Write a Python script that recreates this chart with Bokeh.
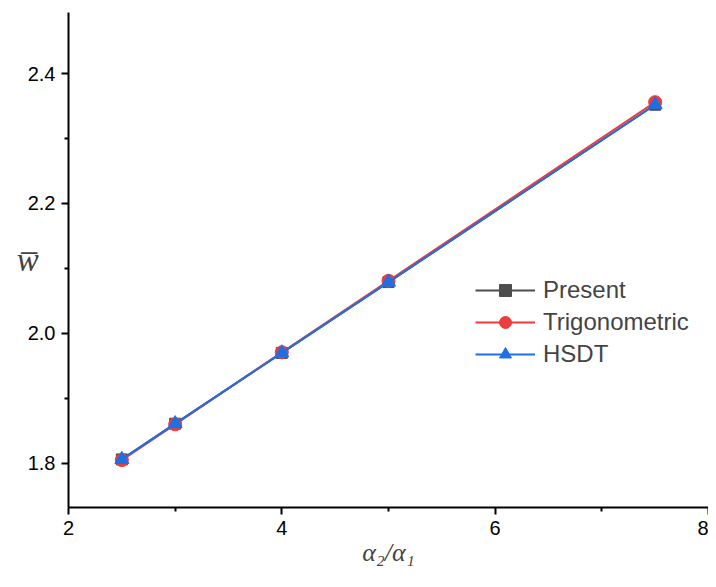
from bokeh.plotting import figure
from bokeh.models import FixedTicker, Range1d, Legend, LegendItem
from bokeh.embed import file_html
from bokeh.resources import INLINE

ratio = [2.5, 3, 4, 5, 7.5]
present = [1.806, 1.861, 1.970, 2.079, 2.352]
trigonometric = [1.805, 1.860, 1.971, 2.081, 2.356]
hsdt = [1.806, 1.861, 1.970, 2.079, 2.352]

x_ticks = [2, 4, 6, 8]
x_minor = [3, 5, 7]
y_ticks = [1.8, 2.0, 2.2, 2.4]
y_minor = [1.9, 2.1, 2.3]

p = figure(width=708, height=579, output_backend="svg", toolbar_location=None,
           x_range=Range1d(2, 8), y_range=Range1d(1.732, 2.494),
           min_border_left=68, min_border_right=0, min_border_top=12, min_border_bottom=72)
p.outline_line_color = None
p.grid.visible = False

series = [
    ("Present", present, "#4D4D4D", "square", 11),
    ("Trigonometric", trigonometric, "#EE3B3B", "circle", 13),
    ("HSDT", hsdt, "#1E6FE3", "triangle", 14),
]
items = []
for name, vals, col, mk, sz in series:
    r1 = p.line(ratio, vals, line_color=col, line_width=2)
    r2 = p.scatter(ratio, vals, marker=mk, size=sz, fill_color=col, line_color=col)
    items.append(LegendItem(label=name, renderers=[r1, r2]))

legend = Legend(items=items, location=(407, 138), label_text_font="Liberation Sans",
                label_text_font_size="24px", glyph_width=60, glyph_height=30,
                label_standoff=8, spacing=2, padding=0, border_line_color=None,
                background_fill_alpha=0)
p.add_layout(legend, "center")

for ax in (p.xaxis[0], p.yaxis[0]):
    ax.axis_line_width = 2
    ax.axis_line_color = "black"
    ax.major_tick_line_width = 2
    ax.minor_tick_line_width = 2
    ax.major_tick_out = 7
    ax.major_tick_in = 0
    ax.minor_tick_out = 4
    ax.minor_tick_in = 0
    ax.major_label_text_font = "Liberation Sans"
    ax.major_label_text_font_size = "20px"
    ax.major_label_text_color = "black"

p.xaxis.ticker = FixedTicker(ticks=x_ticks, minor_ticks=x_minor)
p.yaxis.ticker = FixedTicker(ticks=y_ticks, minor_ticks=y_minor)
p.yaxis.major_label_overrides = {t: f"{t:.1f}" for t in y_ticks}
p.xaxis.major_label_overrides = {t: str(t) for t in x_ticks}
p.xaxis.major_label_standoff = 6
p.yaxis.major_label_standoff = 6

p.xaxis.axis_label = "α₂/α₁"
p.xaxis.axis_label_text_font = "Liberation Serif"
p.xaxis.axis_label_text_font_style = "italic"
p.xaxis.axis_label_text_font_size = "26px"
p.xaxis.axis_label_standoff = 0

p.yaxis.axis_label = "w\u0305"
p.yaxis.axis_label_text_font = "Liberation Serif"
p.yaxis.axis_label_text_font_style = "italic"
p.yaxis.axis_label_text_font_size = "33px"
p.yaxis.axis_label_orientation = "horizontal"
p.yaxis.axis_label_standoff = -14

open("out.html", "w").write(file_html(p, INLINE))
